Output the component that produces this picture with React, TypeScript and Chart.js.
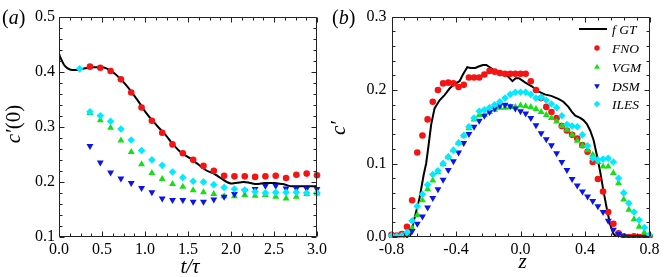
import React, { useEffect, useRef } from "react";
import { Chart, registerables } from "chart.js";

Chart.register(...registerables);

const SERIF = '"Liberation Serif", "Times New Roman", Times, serif';

const RED = "rgb(245,20,20)";
const GREEN = "rgb(20,225,20)";
const BLUE = "rgb(10,20,235)";
const CYAN = "rgb(0,235,255)";

// ================= Panel (a): c'(0) versus t/tau =================
const aTimes = [0.36, 0.48, 0.6, 0.72, 0.84, 0.96, 1.08, 1.2, 1.32, 1.44, 1.56, 1.68, 1.8, 1.92, 2.04, 2.16, 2.28, 2.4, 2.52, 2.64, 2.76, 2.88, 3.0];
const aTimesILES = [0.24, 0.36, 0.48, 0.6, 0.72, 0.84, 0.96, 1.08, 1.2, 1.32, 1.44, 1.56, 1.68, 1.8, 1.92, 2.04, 2.16, 2.28, 2.4, 2.52, 2.64, 2.76, 2.88, 3.0];
const aFNO = [0.409, 0.407, 0.401, 0.386, 0.362, 0.335, 0.311, 0.289, 0.268, 0.252, 0.24, 0.229, 0.22, 0.211, 0.21, 0.21, 0.209, 0.21, 0.211, 0.207, 0.213, 0.215, 0.212];
const aVGM = [0.325, 0.312, 0.298, 0.275, 0.254, 0.232, 0.216, 0.205, 0.196, 0.191, 0.185, 0.181, 0.178, 0.174, 0.174, 0.176, 0.175, 0.176, 0.173, 0.17, 0.173, 0.178, 0.179];
const aDSM = [0.265, 0.235, 0.217, 0.206, 0.198, 0.189, 0.181, 0.17, 0.167, 0.167, 0.164, 0.164, 0.168, 0.173, 0.178, 0.184, 0.187, 0.193, 0.193, 0.188, 0.188, 0.188, 0.187];
const aILES = [0.405, 0.327, 0.32, 0.31, 0.296, 0.276, 0.257, 0.24, 0.23, 0.218, 0.208, 0.201, 0.2, 0.195, 0.19, 0.187, 0.185, 0.182, 0.18, 0.181, 0.181, 0.181, 0.18, 0.18];
const aGTt = [0, 0.03, 0.06, 0.1, 0.15, 0.2, 0.25, 0.3, 0.35, 0.4, 0.45, 0.5, 0.55, 0.6, 0.65, 0.7, 0.75, 0.8, 0.85, 0.9, 0.95, 1.0, 1.05, 1.1, 1.15, 1.2, 1.25, 1.3, 1.35, 1.4, 1.45, 1.5, 1.55, 1.6, 1.65, 1.7, 1.75, 1.8, 1.85, 1.9, 1.95, 2.0, 2.05, 2.1, 2.15, 2.2, 2.25, 2.3, 2.35, 2.4, 2.45, 2.5, 2.55, 2.6, 2.65, 2.7, 2.75, 2.8, 2.9, 3.0];
const aGTc = [0.432, 0.421, 0.412, 0.406, 0.403, 0.403, 0.404, 0.406, 0.407, 0.408, 0.408, 0.408, 0.406, 0.402, 0.396, 0.389, 0.381, 0.372, 0.362, 0.351, 0.34, 0.328, 0.318, 0.309, 0.3, 0.292, 0.283, 0.273, 0.264, 0.256, 0.25, 0.245, 0.24, 0.234, 0.228, 0.222, 0.218, 0.215, 0.21, 0.205, 0.2, 0.197, 0.198, 0.199, 0.2, 0.199, 0.197, 0.196, 0.197, 0.198, 0.198, 0.198, 0.197, 0.196, 0.194, 0.192, 0.192, 0.192, 0.192, 0.192];
const aXTicks = [0, 0.5, 1.0, 1.5, 2.0, 2.5, 3.0];
const aYTicks = [0.1, 0.2, 0.3, 0.4, 0.5];

// ================= Panel (b): c' versus z =================
const zGrid = [-0.8, -0.768, -0.736, -0.704, -0.672, -0.64, -0.608, -0.576, -0.544, -0.512, -0.48, -0.448, -0.416, -0.384, -0.352, -0.32, -0.288, -0.256, -0.224, -0.192, -0.16, -0.128, -0.096, -0.064, -0.032, 0, 0.032, 0.064, 0.096, 0.128, 0.16, 0.192, 0.224, 0.256, 0.288, 0.32, 0.352, 0.384, 0.416, 0.448, 0.48, 0.512, 0.544, 0.576, 0.608, 0.64, 0.672, 0.704, 0.736, 0.768, 0.8];
const bFNO = [0.003, 0.002, 0.004, 0.014, 0.05, 0.115, 0.138, 0.16, 0.184, 0.2, 0.209, 0.21, 0.209, 0.204, 0.207, 0.217, 0.217, 0.217, 0.221, 0.226, 0.225, 0.223, 0.222, 0.222, 0.222, 0.222, 0.222, 0.212, 0.2, 0.189, 0.177, 0.17, 0.162, 0.151, 0.145, 0.139, 0.134, 0.125, 0.116, 0.102, 0.079, 0.062, 0.034, 0.018, 0.005, 0.001, 0.0, 0.001, 0.0, 0.001, 0.0];
const bVGM = [0.0, 0.0, 0.001, 0.004, 0.012, 0.03, 0.05, 0.065, 0.077, 0.088, 0.099, 0.109, 0.118, 0.128, 0.138, 0.148, 0.16, 0.166, 0.166, 0.17, 0.173, 0.176, 0.176, 0.177, 0.177, 0.179, 0.178, 0.177, 0.174, 0.17, 0.166, 0.162, 0.157, 0.151, 0.146, 0.139, 0.131, 0.124, 0.118, 0.112, 0.102, 0.096, 0.096, 0.087, 0.073, 0.051, 0.037, 0.024, 0.014, 0.006, 0.001];
const bDSM = [0.0, 0.0, 0.0, 0.002, 0.008, 0.018, 0.028, 0.04, 0.053, 0.065, 0.078, 0.091, 0.103, 0.115, 0.128, 0.14, 0.15, 0.158, 0.165, 0.17, 0.175, 0.179, 0.18, 0.178, 0.175, 0.171, 0.168, 0.162, 0.152, 0.141, 0.133, 0.125, 0.114, 0.102, 0.091, 0.079, 0.07, 0.062, 0.055, 0.049, 0.042, 0.034, 0.022, 0.01, 0.004, 0.001, 0.0, 0.0, 0.0, 0.0, 0.0];
const bILES = [0.002, 0.001, 0.002, 0.006, 0.022, 0.042, 0.058, 0.071, 0.085, 0.09, 0.1, 0.109, 0.118, 0.128, 0.138, 0.15, 0.162, 0.171, 0.173, 0.176, 0.18, 0.184, 0.189, 0.194, 0.197, 0.197, 0.197, 0.194, 0.189, 0.19, 0.186, 0.181, 0.176, 0.165, 0.153, 0.151, 0.15, 0.139, 0.124, 0.107, 0.105, 0.106, 0.107, 0.102, 0.08, 0.06, 0.046, 0.034, 0.023, 0.013, 0.003];
const bGTz = [-0.69, -0.682, -0.657, -0.626, -0.6, -0.585, -0.57, -0.554, -0.533, -0.502, -0.471, -0.44, -0.409, -0.378, -0.357, -0.33, -0.31, -0.28, -0.26, -0.233, -0.212, -0.191, -0.16, -0.12, -0.08, -0.05, -0.03, -0.01, 0.01, 0.03, 0.07, 0.11, 0.15, 0.19, 0.235, 0.266, 0.297, 0.32, 0.34, 0.37, 0.39, 0.411, 0.432, 0.453, 0.473, 0.494, 0.515, 0.535, 0.556, 0.577, 0.6];
const bGTc = [0, 0.003, 0.026, 0.053, 0.085, 0.1, 0.125, 0.153, 0.175, 0.186, 0.193, 0.202, 0.208, 0.212, 0.221, 0.231, 0.23, 0.23, 0.232, 0.234, 0.234, 0.231, 0.226, 0.222, 0.219, 0.212, 0.216, 0.216, 0.213, 0.21, 0.205, 0.198, 0.194, 0.192, 0.188, 0.184, 0.177, 0.17, 0.165, 0.162, 0.159, 0.154, 0.145, 0.132, 0.112, 0.089, 0.062, 0.039, 0.017, 0.004, 0];
const bXTicks = [-0.8, -0.4, 0.0, 0.4, 0.8];
const bYTicks = [0.0, 0.1, 0.2, 0.3];

const legendLabels = ["f GT", "FNO", "VGM", "DSM", "ILES"];

// ---------------------------------------------------------------
type Seg = { t: string; it?: boolean };

const pts = (xs: number[], ys: number[]) => ys.map((y, i) => ({ x: xs[i], y }));

function fontOf(size: number, it?: boolean) {
  return `${it ? "italic " : ""}${size}px ${SERIF}`;
}

function drawSegs(ctx: CanvasRenderingContext2D, segs: Seg[], x: number, y: number, size: number, center: boolean) {
  const widths = segs.map((s) => {
    ctx.font = fontOf(size, s.it);
    return ctx.measureText(s.t).width;
  });
  const total = widths.reduce((a, b) => a + b, 0);
  let cx = center ? x - total / 2 : x;
  segs.forEach((s, i) => {
    ctx.font = fontOf(size, s.it);
    ctx.fillText(s.t, cx, y);
    cx += widths[i];
  });
}

function drawMarker(ctx: CanvasRenderingContext2D, style: string, x: number, y: number, r: number, color: string) {
  ctx.fillStyle = color;
  ctx.beginPath();
  if (style === "circle") {
    ctx.arc(x, y, r, 0, Math.PI * 2);
  } else if (style === "up") {
    ctx.moveTo(x, y - r);
    ctx.lineTo(x + r * 0.866, y + r * 0.5);
    ctx.lineTo(x - r * 0.866, y + r * 0.5);
  } else if (style === "down") {
    ctx.moveTo(x, y + r);
    ctx.lineTo(x + r * 0.866, y - r * 0.5);
    ctx.lineTo(x - r * 0.866, y - r * 0.5);
  } else {
    ctx.moveTo(x, y - r);
    ctx.lineTo(x + r, y);
    ctx.lineTo(x, y + r);
    ctx.lineTo(x - r, y);
  }
  ctx.closePath();
  ctx.fill();
}

interface Decor {
  id: string;
  xMinor: number;
  xMajor: number;
  yMinor: number;
  yMajor: number;
  xTitle: { segs: Seg[]; x: number; y: number; size: number };
  yTitle: { segs: Seg[]; x: number; y: number; size: number };
  tag: { segs: Seg[]; x: number; y: number; size: number };
  legend?: boolean;
}

function decorPlugin(d: Decor) {
  return {
    id: d.id,
    afterDatasetsDraw(chart: any) {
      const { ctx, chartArea } = chart;
      const xs = chart.scales.x;
      const ys = chart.scales.y;
      const L = Math.round(chartArea.left) + 0.5;
      const R = Math.round(chartArea.right) - 0.5;
      const T = Math.round(chartArea.top) + 0.5;
      const B = Math.round(chartArea.bottom) - 0.5;
      ctx.save();
      ctx.strokeStyle = "#222";
      ctx.lineWidth = 1;
      ctx.beginPath();
      ctx.rect(L, T, R - L, B - T);
      const isMaj = (v: number, step: number) => Math.abs(v / step - Math.round(v / step)) < 1e-6;
      const nx = Math.round((xs.max - xs.min) / d.xMinor);
      for (let i = 0; i <= nx; i++) {
        const v = xs.min + i * d.xMinor;
        const len = isMaj(v, d.xMajor) ? 5 : 3;
        const px = Math.round(xs.getPixelForValue(v)) + 0.5;
        ctx.moveTo(px, B);
        ctx.lineTo(px, B - len);
        ctx.moveTo(px, T);
        ctx.lineTo(px, T + len);
      }
      const ny = Math.round((ys.max - ys.min) / d.yMinor);
      for (let i = 0; i <= ny; i++) {
        const v = ys.min + i * d.yMinor;
        const len = isMaj(v, d.yMajor) ? 5 : 3;
        const py = Math.round(ys.getPixelForValue(v)) + 0.5;
        ctx.moveTo(L, py);
        ctx.lineTo(L + len, py);
        ctx.moveTo(R, py);
        ctx.lineTo(R - len, py);
      }
      ctx.stroke();
      ctx.restore();
    },
    afterDraw(chart: any) {
      const { ctx } = chart;
      ctx.save();
      ctx.fillStyle = "#000";
      ctx.textBaseline = "alphabetic";
      ctx.textAlign = "left";
      drawSegs(ctx, d.xTitle.segs, d.xTitle.x, d.xTitle.y, d.xTitle.size, true);
      drawSegs(ctx, d.tag.segs, d.tag.x, d.tag.y, d.tag.size, false);
      ctx.save();
      ctx.translate(d.yTitle.x, d.yTitle.y);
      ctx.rotate(-Math.PI / 2);
      drawSegs(ctx, d.yTitle.segs, 0, 0, d.yTitle.size, true);
      ctx.restore();
      if (d.legend) {
        const rows = [29, 48, 67, 86, 104];
        const styles = ["line", "circle", "up", "down", "diamond"];
        const colors = ["#000", RED, GREEN, BLUE, CYAN];
        ctx.textBaseline = "middle";
        rows.forEach((y, i) => {
          if (styles[i] === "line") {
            ctx.strokeStyle = "#000";
            ctx.lineWidth = 2;
            ctx.beginPath();
            ctx.moveTo(249, y);
            ctx.lineTo(277, y);
            ctx.stroke();
          } else {
            drawMarker(ctx, styles[i], 267, y, styles[i] === "circle" ? 2.7 : 3.3, colors[i]);
          }
          ctx.fillStyle = "#000";
          ctx.font = fontOf(13.5, true);
          ctx.fillText(legendLabels[i], 282, y + 1);
        });
      }
      ctx.restore();
    },
  };
}

function axis(min: number, max: number, ticks: number[], fixed: { width?: number; height?: number }, pad: number) {
  return {
    type: "linear",
    min,
    max,
    grid: { display: false, drawTicks: false },
    border: { display: false },
    afterBuildTicks: (s: any) => {
      s.ticks = ticks.map((v) => ({ value: v }));
    },
    afterFit: (s: any) => {
      if (fixed.width !== undefined) s.width = fixed.width;
      if (fixed.height !== undefined) s.height = fixed.height;
    },
    ticks: {
      autoSkip: false,
      maxRotation: 0,
      minRotation: 0,
      padding: pad,
      color: "#000",
      font: { family: SERIF, size: 16 },
      callback: (v: any) => Number(v).toFixed(1),
    },
  };
}

function markerSets(xF: number[], F: number[], xV: number[], V: number[], xD: number[], D: number[], xI: number[], I: number[], clip: any) {
  const base = { showLine: false, borderWidth: 0, clip };
  return [
    { ...base, label: "FNO", data: pts(xF, F), pointStyle: "circle", pointRadius: 3.3, backgroundColor: RED, borderColor: RED, order: 4 },
    { ...base, label: "VGM", data: pts(xV, V), pointStyle: "triangle", pointRadius: 4.0, backgroundColor: GREEN, borderColor: GREEN, order: 3 },
    { ...base, label: "DSM", data: pts(xD, D), pointStyle: "triangle", pointRotation: 180, pointRadius: 4.0, backgroundColor: BLUE, borderColor: BLUE, order: 2 },
    { ...base, label: "ILES", data: pts(xI, I), pointStyle: "rectRot", pointRadius: 3.8, backgroundColor: CYAN, borderColor: CYAN, order: 1 },
  ];
}

function configA(): any {
  return {
    type: "scatter",
    data: {
      datasets: [
        { label: "f GT", data: pts(aGTt, aGTc), showLine: true, borderColor: "#000", borderWidth: 2, pointRadius: 0, cubicInterpolationMode: "monotone", order: 5 },
        ...markerSets(aTimes, aFNO, aTimes, aVGM, aTimes, aDSM, aTimesILES, aILES, false),
      ],
    },
    options: {
      animation: false,
      responsive: false,
      devicePixelRatio: 1,
      events: [],
      layout: { padding: { left: 0, right: 11, top: 16.5, bottom: 0 } },
      plugins: { legend: { display: false }, tooltip: { enabled: false } },
      scales: {
        x: axis(0, 3, aXTicks, { height: 40 }, 3),
        y: axis(0.1, 0.5, aYTicks, { width: 59 }, 4),
      },
    },
    plugins: [
      decorPlugin({
        id: "decorA",
        xMinor: 0.125,
        xMajor: 0.5,
        yMinor: 0.02,
        yMajor: 0.1,
        xTitle: { segs: [{ t: "t/τ", it: true }], x: 190, y: 273, size: 21 },
        yTitle: { segs: [{ t: "c′", it: true }, { t: "(0)" }], x: 20, y: 124, size: 21 },
        tag: { segs: [{ t: "(" }, { t: "a", it: true }, { t: ")" }], x: 2, y: 24, size: 20 },
      }),
    ],
  };
}

function configB(): any {
  return {
    type: "scatter",
    data: {
      datasets: [
        { label: "f GT", data: pts(bGTz, bGTc), showLine: true, borderColor: "#000", borderWidth: 2, pointRadius: 0, tension: 0, order: 5 },
        ...markerSets(zGrid, bFNO, zGrid, bVGM, zGrid, bDSM, zGrid, bILES, { left: 4, right: 4, top: 4, bottom: 1 }),
      ],
    },
    options: {
      animation: false,
      responsive: false,
      devicePixelRatio: 1,
      events: [],
      layout: { padding: { left: 0, right: 14.5, top: 16.5, bottom: 0 } },
      plugins: { legend: { display: false }, tooltip: { enabled: false } },
      scales: {
        x: axis(-0.8, 0.8, bXTicks, { height: 40 }, 3),
        y: axis(0, 0.3, bYTicks, { width: 61.5 }, 5),
      },
    },
    plugins: [
      decorPlugin({
        id: "decorB",
        xMinor: 0.08,
        xMajor: 0.4,
        yMinor: 0.02,
        yMajor: 0.1,
        xTitle: { segs: [{ t: "z", it: true }], x: 192.5, y: 268, size: 21 },
        yTitle: { segs: [{ t: "c′", it: true }], x: 15, y: 128, size: 21 },
        tag: { segs: [{ t: "(" }, { t: "b", it: true }, { t: ")" }], x: 2, y: 24, size: 20 },
        legend: true,
      }),
    ],
  };
}

export default function App() {
  const aRef = useRef<HTMLCanvasElement>(null);
  const bRef = useRef<HTMLCanvasElement>(null);
  useEffect(() => {
    const ca = new Chart(aRef.current as HTMLCanvasElement, configA());
    const cb = new Chart(bRef.current as HTMLCanvasElement, configB());
    return () => {
      ca.destroy();
      cb.destroy();
    };
  }, []);
  return (
    <div style={{ position: "absolute", left: 0, top: 0, width: 664, height: 277, background: "#fff", overflow: "hidden" }}>
      <canvas ref={aRef} width={330} height={277} style={{ position: "absolute", left: 0, top: 0, width: 330, height: 277 }} />
      <canvas ref={bRef} width={334} height={277} style={{ position: "absolute", left: 330, top: 0, width: 334, height: 277 }} />
    </div>
  );
}
